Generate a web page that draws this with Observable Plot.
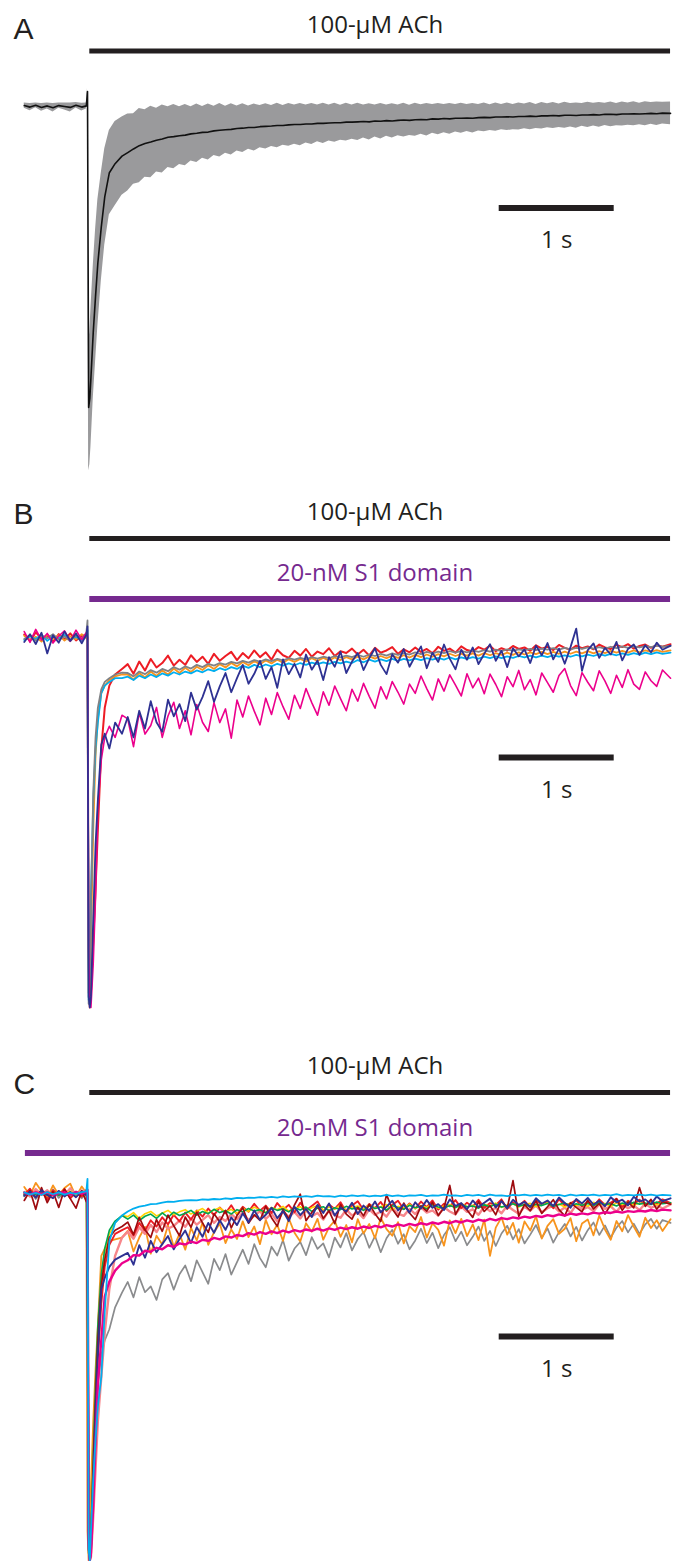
<!DOCTYPE html>
<html><head><meta charset="utf-8">
<script src="https://cdn.jsdelivr.net/npm/d3@7"></script>
<script src="https://cdn.jsdelivr.net/npm/@observablehq/plot@0.6"></script>
<style>body{margin:0;background:#fff} #fig svg{display:block}</style>
</head><body><div id="fig"></div>
<script>
// ---------- DATA (current normalised to the peak = -100, time in s from ACh onset) ----------
const time = [-0.55,-0.5,-0.45,-0.4,-0.35,-0.3,-0.25,-0.2,-0.15,-0.1,-0.05,-0.01,
0,0.01,0.02,0.03,0.05,0.07,0.09,0.12,0.15,0.19,0.24,0.3,
0.35,0.4,0.45,0.5,0.55,0.6,0.65,0.7,0.75,0.8,
0.85,0.9,0.95,1,1.05,1.1,1.15,1.2,1.25,1.3,
1.35,1.4,1.45,1.5,1.55,1.6,1.65,1.7,1.75,1.8,
1.85,1.9,1.95,2,2.05,2.1,2.15,2.2,2.25,2.3,
2.35,2.4,2.45,2.5,2.55,2.6,2.65,2.7,2.75,2.8,
2.85,2.9,2.95,3,3.05,3.1,3.15,3.2,3.25,3.3,
3.35,3.4,3.45,3.5,3.55,3.6,3.65,3.7,3.75,3.8,
3.85,3.9,3.95,4,4.05,4.1,4.15,4.2,4.25,4.3,
4.35,4.4,4.45,4.5,4.55,4.6,4.65,4.7,4.75,4.8,
4.85,4.9,4.95,5,5.07];

// Panel A: mean and SD
const meanA = [0.3,-0.2,0.4,-0.3,0.2,-0.4,0.3,0,-0.3,0.4,-0.2,0.2,
5,-100,-97,-90,-75,-63,-52,-40,-30,-22,-19,-16.5,
-15.3,-14.1,-13.0,-12.3,-11.8,-11.2,-10.8,-10.2,-10.0,-9.7,
-9.5,-9.1,-8.9,-8.6,-8.5,-8.1,-7.9,-7.7,-7.6,-7.3,
-7.2,-7.0,-7.0,-6.7,-6.6,-6.5,-6.3,-6.3,-6.1,-6.0,
-6.0,-5.8,-5.8,-5.6,-5.6,-5.5,-5.4,-5.4,-5.2,-5.2,
-5.1,-5.0,-5.1,-4.8,-4.9,-4.7,-4.8,-4.6,-4.5,-4.6,
-4.4,-4.3,-4.4,-4.1,-4.2,-4.0,-4.1,-3.9,-3.9,-3.8,
-3.9,-3.7,-3.6,-3.7,-3.5,-3.5,-3.4,-3.5,-3.3,-3.3,
-3.2,-3.3,-3.1,-3.1,-3.0,-3.1,-2.9,-2.9,-3.0,-2.8,
-2.8,-2.7,-2.8,-2.6,-2.6,-2.7,-2.5,-2.5,-2.4,-2.5,
-2.4,-2.3,-2.4,-2.2,-2.3];
const sdA = [0.9,1.2,0.8,1.3,1.0,1.4,0.9,1.2,1.5,0.9,1.3,1.0,
1,21,22,23,22,22,21,18,16,14,14,13,
12.8,11.7,12.3,11.2,11.9,10.6,11.3,10.1,10.7,9.6,
10.2,9.0,9.7,8.6,9.3,8.2,8.9,7.8,8.5,7.5,
8.1,7.2,7.8,7.0,7.5,6.8,7.4,6.6,7.1,6.5,
7.0,6.3,6.8,6.1,6.7,6.0,6.5,5.8,6.3,5.7,
6.2,5.5,6.0,5.3,5.9,5.2,5.7,5.1,5.6,5.0,
5.5,4.9,5.4,4.8,5.2,4.7,5.1,4.6,5.0,4.5,
4.9,4.4,4.8,4.3,4.7,4.2,4.6,4.2,4.5,4.1,
4.5,4.0,4.4,4.0,4.3,3.9,4.3,3.9,4.2,3.8,
4.2,3.8,4.1,3.7,4.1,3.7,4.0,3.7,4.0,3.6,
4.0,3.6,3.9,3.6,3.8];

// Panel B: individual recordings
const bRed = [0.8,-0.9,1.4,-0.3,0.6,-1.2,0.9,-0.5,1.1,-0.8,0.4,0.7,
0,-88,-100,-96,-82,-68,-52,-30,-19,-13,-10,-8.5,
-7.2,-9.8,-6.5,-8.9,-5.8,-8.1,-6.9,-4.9,-7.6,-6.0,
-7.4,-4.8,-6.6,-5.2,-7.1,-4.4,-6.3,-5.0,-3.9,-6.1,
-4.2,-5.6,-3.5,-5.3,-4.0,-6.0,-3.3,-4.8,-5.5,-3.6,
-4.9,-3.1,-5.2,-3.8,-4.5,-2.9,-5.0,-3.7,-4.2,-3.0,
-4.6,-3.3,-4.9,-2.8,-4.1,-3.5,-2.6,-4.4,-3.2,-4.0,
-2.7,-3.9,-3.1,-4.3,-2.5,-3.6,-3.0,-4.1,-2.4,-3.4,
-3.8,-2.6,-3.3,-2.2,-3.7,-2.9,-3.5,-2.3,-3.1,-2.7,
-3.6,-2.1,-3.0,-2.5,-3.4,-2.0,-2.8,-3.3,-2.2,-2.9,
-2.4,-3.2,-1.9,-2.7,-3.1,-2.0,-2.6,-1.8,-3.0,-2.3,
-1.9,-2.8,-2.1,-2.5,-1.8];
const bGray = [-0.4,0.7,-0.9,0.5,-0.2,0.9,-0.6,0.3,-1.0,0.6,-0.3,1.2,
4.6,-99,-92,-72,-42,-27,-19,-14,-12,-11,-10,-9.5,
-9.6,-10.5,-9.2,-9.9,-8.8,-9.5,-8.5,-9.1,-8.0,-8.7,
-7.8,-8.4,-7.4,-8.0,-7.1,-7.6,-6.9,-7.3,-6.6,-7.0,
-6.3,-6.8,-6.1,-6.5,-5.9,-6.4,-5.8,-6.2,-5.6,-6.0,
-5.5,-5.9,-5.3,-5.7,-5.2,-5.6,-5.0,-5.4,-4.9,-5.3,
-4.7,-5.2,-4.6,-5.0,-4.4,-4.9,-4.3,-4.7,-4.2,-4.6,
-4.0,-4.5,-3.9,-4.3,-3.8,-4.2,-3.7,-4.1,-3.6,-4.0,
-3.5,-3.9,-3.4,-3.8,-3.3,-3.7,-3.2,-3.6,-3.2,-3.5,
-3.1,-3.4,-3.0,-3.3,-2.9,-3.3,-2.8,-3.2,-2.8,-3.1,
-2.7,-3.0,-2.6,-3.0,-2.5,-2.9,-2.4,-2.8,-2.4,-2.7,
-2.3,-2.6,-2.2,-2.5,-2.3];
const bOrange = [0.5,-0.6,0.2,-1.1,0.8,-0.3,0.6,-0.8,0.3,-0.5,0.9,-0.2,
1,-96,-97,-82,-52,-32,-22,-15,-13,-11.5,-10.5,-10,
-10.0,-11.4,-9.6,-10.8,-9.2,-10.4,-8.9,-10.0,-8.4,-9.6,
-8.2,-9.3,-7.9,-8.8,-7.5,-8.5,-7.2,-8.1,-6.9,-7.8,
-6.6,-7.5,-6.4,-7.2,-6.2,-7.0,-6.0,-6.8,-5.9,-6.6,
-5.8,-6.5,-5.6,-6.3,-5.5,-6.2,-5.4,-6.1,-5.3,-5.9,
-5.2,-5.9,-5.1,-5.7,-5.0,-5.6,-4.9,-5.5,-4.8,-5.4,
-4.7,-5.3,-4.6,-5.2,-4.5,-5.1,-4.4,-5.0,-4.4,-4.9,
-4.3,-4.9,-4.2,-4.8,-4.2,-4.7,-4.1,-4.7,-4.0,-4.6,
-4.0,-4.5,-3.9,-4.5,-3.9,-4.4,-3.8,-4.4,-3.8,-4.3,
-3.7,-4.3,-3.7,-4.2,-3.6,-4.1,-3.6,-4.1,-3.5,-4.0,
-3.5,-3.9,-3.4,-3.9,-3.5];
const bCyan = [-0.7,0.3,-0.4,0.8,-0.9,0.4,-0.2,0.7,-0.6,0.2,-0.8,0.5,
2,-98,-90,-70,-44,-30,-23,-15,-13,-12,-11,-11,
-10.6,-11.5,-10.3,-11.0,-10.0,-10.7,-9.7,-10.3,-9.4,-10.0,
-9.2,-9.7,-8.9,-9.4,-8.6,-9.1,-8.3,-8.8,-8.0,-8.5,
-7.6,-8.2,-7.4,-8.0,-7.3,-7.8,-7.1,-7.6,-7.0,-7.5,
-6.9,-7.4,-6.8,-7.2,-6.7,-7.1,-6.6,-7.0,-6.5,-6.9,
-6.1,-6.7,-6.0,-6.5,-5.9,-6.4,-5.8,-6.3,-5.8,-6.2,
-5.7,-6.1,-5.6,-6.0,-5.5,-6.0,-5.4,-5.9,-5.4,-5.8,
-5.3,-5.7,-5.2,-5.6,-5.1,-5.6,-5.1,-5.5,-5.0,-5.4,
-4.9,-5.4,-4.9,-5.3,-4.8,-5.2,-4.8,-5.2,-4.7,-5.1,
-4.6,-5.0,-4.5,-4.9,-4.4,-4.8,-4.3,-4.7,-4.2,-4.6,
-4.1,-4.5,-4.0,-4.4,-4.1];
const bNavy = [-1.2,0.9,-1.8,1.3,-4.3,0.6,-1.4,1.6,-0.9,1.1,-1.6,0.8,
3,-97,-100,-97,-76,-56,-44,-29,-26,-30,-23,-26,
-21.5,-27.0,-19.8,-24.6,-17.2,-22.9,-25.5,-16.8,-21.3,-18.0,
-22.6,-14.9,-19.5,-16.1,-11.8,-17.4,-13.2,-9.6,-14.8,-11.0,
-7.4,-12.5,-9.8,-6.3,-11.2,-8.0,-13.6,-5.9,-9.9,-7.1,
-10.8,-4.6,-8.7,-6.2,-11.5,-5.3,-7.9,-3.8,-9.6,-6.5,
-4.2,-8.8,-5.6,-2.9,-7.4,-9.9,-4.5,-6.8,-3.1,-7.9,
-5.0,-2.4,-8.3,-4.1,-6.6,-1.9,-5.7,-8.6,-3.3,-6.0,
-2.7,-7.2,-4.4,-1.8,-6.3,-3.6,-8.0,-2.9,-5.1,-3.2,
-6.9,-2.2,-4.8,-1.5,-5.9,-3.0,-7.1,-2.6,2.4,-9.0,
-3.4,-1.6,-5.5,-2.8,-4.6,-1.2,-6.2,-3.1,-1.9,-4.7,
-2.1,-4.0,-1.4,-3.3,-2.2];
const bPink = [1.6,-1.3,2.2,-0.7,1.1,-1.5,0.4,1.8,-1.0,2.0,-0.6,1.3,
0,-85,-98,-100,-88,-70,-46,-33,-27,-24,-27,-21,
-22.0,-29.5,-20.3,-26.1,-23.8,-18.9,-27.0,-21.2,-17.5,-24.6,
-19.8,-26.3,-18.1,-22.9,-25.4,-17.6,-23.0,-19.3,-27.2,-16.9,
-21.5,-15.8,-19.9,-23.6,-16.4,-20.8,-14.9,-18.7,-22.1,-15.6,
-19.2,-13.8,-17.6,-21.0,-14.7,-18.3,-13.1,-16.5,-19.8,-14.0,
-17.2,-12.4,-15.9,-19.1,-13.3,-16.6,-11.9,-14.8,-18.0,-12.6,
-15.1,-10.4,-13.8,-16.9,-11.2,-14.5,-10.1,-12.9,-15.8,-9.8,
-13.6,-11.0,-15.2,-9.9,-12.7,-16.0,-10.6,-13.3,-8.9,-14.1,
-11.4,-15.5,-9.6,-12.2,-14.8,-10.3,-8.4,-13.0,-15.7,-9.5,
-12.1,-14.4,-9.0,-11.8,-15.1,-10.2,-13.5,-8.7,-12.6,-14.0,
-9.3,-11.7,-13.2,-8.8,-11.0];

// Panel C: individual recordings
const cGray = [-0.8,0.9,-1.5,0.4,-0.6,1.1,-1.2,0.3,-0.9,0.6,-1.3,0.5,
0,-98,-100,-95,-78,-62,-52,-44,-40,-37,-31,-27,
-24.1,-28.3,-22.8,-26.9,-25.3,-29.0,-23.4,-21.7,-26.2,-22.0,
-19.6,-23.9,-18.2,-21.4,-24.6,-17.8,-20.9,-16.5,-22.1,-18.7,
-15.3,-19.2,-13.8,-17.6,-20.1,-14.5,-16.9,-12.7,-18.3,-15.0,
-13.2,-16.8,-11.9,-15.1,-13.6,-17.4,-12.0,-14.7,-10.8,-15.5,
-12.4,-10.5,-14.8,-11.6,-16.0,-12.2,-9.9,-13.7,-11.1,-15.2,
-12.8,-9.6,-13.5,-10.7,-14.9,-11.3,-9.2,-13.0,-10.4,-14.1,
-11.8,-9.0,-12.9,-10.2,-14.3,-10.9,-8.8,-12.5,-9.7,-13.6,
-11.2,-8.6,-12.1,-9.5,-13.4,-10.5,-8.3,-11.7,-9.1,-12.8,
-10.0,-7.9,-11.3,-8.7,-12.0,-9.3,-7.5,-10.6,-8.2,-11.0,
-8.4,-6.9,-9.6,-7.2,-8.0];
const cOrange = [1.8,-0.5,2.9,0.6,-1.2,2.2,-0.4,1.5,2.7,-0.9,1.9,0.2,
-92,-100,-96,-80,-62,-48,-36,-17,-15,-13,-12.5,-12,
-10.2,-15.8,-12.0,-9.1,-16.4,-11.5,-13.9,-8.7,-14.6,-11.0,
-15.3,-9.4,-12.8,-7.9,-14.0,-10.6,-8.2,-13.5,-9.8,-12.4,
-7.6,-11.9,-9.0,-13.8,-7.2,-11.1,-8.5,-12.9,-6.8,-10.7,
-13.1,-8.1,-10.4,-6.9,-12.6,-9.2,-7.4,-11.8,-8.6,-13.3,
-7.0,-10.9,-8.3,-12.2,-6.6,-9.7,-11.5,-7.8,-13.6,-8.9,
-10.5,-6.4,-12.0,-8.1,-9.9,-14.2,-7.3,-10.8,-6.9,-11.6,
-8.4,-12.7,-7.1,-17.0,-9.3,-6.5,-11.2,-8.0,-13.4,-7.6,
-10.1,-6.2,-12.3,-8.8,-7.0,-11.0,-9.6,-6.7,-13.0,-8.2,
-7.1,-11.4,-6.0,-9.8,-12.6,-7.5,-10.3,-5.9,-9.0,-11.8,
-6.6,-9.4,-7.3,-10.2,-7.0];
const cSalmon = [0.4,-0.8,1.2,-0.3,0.9,-1.1,0.6,-0.5,1.4,-0.2,0.8,0.6,
0,-90,-100,-99,-88,-75,-62,-50,-38,-26,-17,-12,
-10.4,-12.3,-9.2,-11.0,-8.6,-10.5,-7.9,-9.6,-8.8,-7.4,
-9.1,-6.8,-8.5,-7.2,-5.9,-8.0,-6.4,-7.5,-5.6,-7.0,
-5.2,-7.3,-6.1,-4.8,-6.9,-5.5,-7.6,-4.9,-6.4,-5.0,
-6.8,-4.6,-6.2,-5.3,-7.1,-4.5,-5.9,-6.6,-4.4,-6.0,
-5.1,-6.7,-4.3,-5.8,-4.9,-6.3,-3.9,-5.5,-6.1,-4.2,
-5.6,-3.8,-5.2,-4.6,-6.0,-3.7,-4.9,-5.7,-3.5,-5.0,
-4.3,-5.8,-3.6,-4.8,-3.9,-5.4,-3.3,-4.5,-5.5,-3.6,
-4.7,-3.2,-5.1,-4.0,-3.4,-4.9,-3.8,-5.3,-3.1,-4.4,
-3.7,-4.8,-2.9,-4.2,-3.5,-5.0,-3.0,-4.0,-3.3,-4.5,
-2.8,-3.9,-3.2,-4.1,-3.0];
const cRed = [-0.3,1.3,-1.0,0.7,-1.6,0.9,-0.5,1.2,-1.3,0.4,-0.8,1.0,
0,-95,-100,-97,-80,-62,-45,-30,-20,-14,-11,-10,
-9.2,-11.4,-8.0,-10.1,-7.3,-9.0,-6.5,-8.4,-5.8,-7.6,
-5.2,-7.1,-4.6,-6.3,-4.1,-5.9,-3.8,-5.4,-3.2,-5.7,
-3.6,-5.0,-2.8,-4.7,-3.3,-5.3,-2.6,-4.4,-3.1,-5.1,
-2.5,-4.6,-3.4,-2.2,-4.9,-3.0,-4.2,-2.4,-5.0,-3.3,
-2.1,-4.5,-2.9,-4.0,-2.3,-4.8,-3.1,-2.0,-4.3,-2.7,
-4.1,-2.2,-3.7,-1.9,-4.4,-2.8,-3.5,-1.8,-4.0,-2.5,
-3.6,-1.7,-3.9,-2.6,-3.2,-1.6,-4.2,-2.4,-3.4,-2.0,
-3.8,-1.9,-3.0,-2.3,-4.0,-1.5,-3.3,-2.7,-1.8,-3.6,
-2.2,-3.5,-1.6,-3.1,-2.5,-1.4,-3.7,-2.0,-2.9,-1.7,
-3.2,-2.1,-2.8,-1.6,-2.6];
const cYellow = [0.2,-0.4,0.5,-0.3,0.3,-0.5,0.4,-0.2,0.6,-0.4,0.3,0.1,
0,-96,-100,-95,-75,-55,-38,-24,-16,-11,-8,-6,
-6.3,-5.2,-6.8,-5.5,-4.9,-6.1,-5.4,-4.6,-5.8,-5.0,
-4.4,-5.6,-4.8,-4.1,-5.3,-4.5,-3.9,-5.1,-4.3,-5.5,
-4.0,-4.9,-3.7,-4.6,-5.2,-3.8,-4.4,-3.5,-4.8,-4.1,
-3.6,-4.7,-3.9,-3.3,-4.5,-3.7,-4.2,-3.2,-4.6,-3.8,
-3.4,-4.3,-3.1,-4.0,-3.6,-3.0,-4.4,-3.5,-3.9,-2.9,
-4.1,-3.3,-3.8,-2.8,-4.0,-3.4,-3.0,-3.9,-2.7,-3.6,
-3.2,-3.9,-2.9,-3.5,-2.6,-3.8,-3.1,-2.8,-3.7,-3.0,
-2.7,-3.6,-3.2,-2.5,-3.4,-2.9,-3.7,-2.6,-3.3,-2.8,
-3.5,-2.4,-3.1,-2.7,-3.6,-2.5,-3.0,-2.3,-3.2,-2.6,
-2.9,-2.4,-3.1,-2.5,-2.7];
const cGreen = [-0.3,0.4,-0.2,0.5,-0.4,0.3,-0.5,0.2,-0.3,0.4,-0.2,0.3,
-40,-98,-99,-92,-72,-52,-36,-22,-15,-10,-7.5,-6,
-7.0,-5.9,-7.4,-6.2,-5.6,-6.8,-5.3,-6.5,-5.1,-6.0,
-5.4,-4.6,-5.9,-4.9,-5.5,-4.3,-5.2,-4.7,-5.6,-4.4,
-5.0,-4.1,-4.8,-4.4,-5.3,-3.9,-4.6,-4.2,-5.0,-3.8,
-4.5,-3.7,-4.9,-4.0,-3.6,-4.7,-3.9,-4.4,-3.5,-4.2,
-3.8,-4.6,-3.4,-4.1,-3.7,-4.5,-3.3,-3.9,-4.3,-3.2,
-3.9,-3.5,-4.2,-3.1,-3.7,-4.0,-3.3,-3.8,-3.0,-3.6,
-3.4,-4.0,-3.1,-3.6,-2.9,-3.7,-3.3,-2.8,-3.5,-3.0,
-3.6,-2.9,-3.3,-2.7,-3.5,-3.0,-2.6,-3.4,-2.8,-3.2,
-2.7,-3.3,-2.5,-3.0,-2.8,-3.4,-2.6,-3.1,-2.4,-2.9,
-2.6,-3.0,-2.3,-2.8,-2.5];
const cDarkRed = [-1.9,0.8,-4.3,1.6,-2.5,0.5,-3.8,1.2,-1.4,-4.0,0.7,-2.2,
0,-97,-100,-94,-74,-56,-40,-25,-18,-12,-10,-9,
-7.8,-11.2,-6.5,-9.9,-12.0,-7.1,-10.3,-5.9,-8.8,-11.5,
-6.4,-9.2,-5.1,-8.0,-10.6,-5.5,-7.7,-4.6,-9.4,-6.0,
-3.9,-8.1,-5.8,-7.3,-3.5,-6.6,-8.9,-4.4,-6.9,-3.1,
-0.2,-7.4,-5.2,-3.3,-6.8,-4.7,-8.2,-3.0,-5.6,-7.0,
-3.8,-6.1,-2.9,-5.5,-7.6,-0.3,-4.2,-6.4,-2.6,-5.3,
-7.1,-3.4,-4.8,-2.4,-6.0,-3.9,2.2,-5.7,-2.8,-4.5,
-6.5,-2.2,-4.9,-3.3,-5.8,-1.9,-4.0,3.5,-6.2,-3.0,
-4.7,-2.0,-5.4,-3.6,-1.7,-4.4,-6.1,-2.5,-3.8,-5.0,
-1.8,-4.2,-2.7,-5.6,-3.1,-1.5,-4.6,-2.3,-3.9,1.6,
-3.5,-1.6,-4.3,-2.2,-2.9];
const cNavy = [-0.6,0.5,-1.1,0.9,-0.4,-1.3,0.7,-0.8,0.4,-1.0,0.6,-0.5,
0,-94,-100,-98,-80,-60,-44,-26,-23,-20,-18,-17,
-16.2,-19.4,-14.1,-17.5,-12.9,-16.0,-13.8,-11.6,-15.2,-12.4,
-10.1,-13.5,-9.2,-11.8,-8.0,-10.7,-7.3,-9.9,-6.5,-8.6,
-5.4,-7.9,-4.6,-7.2,-5.8,-3.9,-6.7,-4.8,-7.5,-3.6,
-5.9,-4.2,-6.4,-3.1,-5.3,-2.7,-6.0,-3.8,-4.9,-2.5,
-5.6,-3.3,-4.7,-2.2,-5.1,-3.6,-2.0,-4.6,-3.0,-5.2,
-2.4,-4.1,-1.8,-3.9,-2.9,-4.5,-1.6,-3.4,-2.6,-4.3,
-1.9,-3.7,-2.5,-1.4,-3.8,-2.1,-4.0,-1.7,-3.1,-2.3,
-3.6,-1.3,-2.8,-1.9,-3.4,-1.1,-2.6,-3.9,-1.5,-2.7,
-1.2,-3.0,-2.0,-3.5,-1.0,-2.4,-1.7,-3.2,-0.9,-2.2,
-1.6,-2.9,-0.8,-2.1,-1.3];
const cPink = [0.2,-0.3,0.4,-0.2,0.3,-0.4,0.1,0.3,-0.3,0.4,-0.1,0.5,
1,-96,-100,-98,-85,-68,-52,-40,-28,-24,-21,-19,
-18.2,-16.8,-16.9,-15.6,-15.9,-14.8,-15.2,-14.1,-14.5,-13.6,
-13.9,-13.1,-13.5,-12.6,-12.9,-12.1,-12.5,-11.7,-12.0,-11.3,
-11.6,-10.8,-11.2,-10.5,-11.0,-10.3,-10.8,-10.1,-10.6,-10.0,
-10.4,-9.8,-10.2,-9.6,-10.1,-9.5,-9.9,-9.3,-9.7,-9.2,
-9.6,-9.0,-9.4,-8.8,-9.2,-8.6,-9.0,-8.4,-8.8,-8.3,
-8.7,-8.1,-8.5,-7.9,-8.3,-7.7,-8.1,-7.5,-7.9,-7.3,
-7.7,-7.1,-7.5,-6.9,-7.3,-6.7,-7.0,-6.5,-6.8,-6.3,
-6.6,-6.1,-6.4,-5.9,-6.2,-5.7,-6.0,-5.5,-5.8,-5.4,
-5.7,-5.2,-5.5,-5.1,-5.3,-4.9,-5.2,-4.8,-5.0,-4.7,
-4.9,-4.5,-4.8,-4.4,-4.6];
const cCyan = [0.3,-0.3,0.2,-0.4,0.4,-0.2,0.3,-0.3,0.2,-0.1,0.4,0.6,
4,-97,-100,-92,-78,-67,-58,-50,-32,-13,-8,-6,
-4.9,-4.1,-3.6,-3.3,-2.9,-2.8,-2.5,-2.2,-2.3,-2.0,
-1.9,-1.8,-1.9,-1.6,-1.7,-1.5,-1.6,-1.3,-1.5,-1.2,
-1.3,-1.1,-1.2,-1.0,-1.1,-0.9,-1.1,-0.8,-1.0,-0.8,
-0.9,-0.7,-0.9,-0.6,-0.8,-0.7,-0.9,-0.6,-0.8,-0.5,
-0.7,-0.5,-0.8,-0.6,-0.7,-0.4,-0.7,-0.5,-0.8,-0.5,
-0.6,-0.4,-0.7,-0.5,-0.6,-0.3,-0.6,-0.5,-0.7,-0.4,
-0.6,-0.4,-0.7,-0.3,-0.6,-0.5,-0.7,-0.4,-0.5,-0.3,
-0.6,-0.4,-0.6,-0.3,-0.5,-0.4,-0.7,-0.3,-0.6,-0.4,
-0.5,-0.3,-0.6,-0.4,-0.5,-0.2,-0.6,-0.4,-0.5,-0.3,
-0.5,-0.3,-0.6,-0.4,-0.5];

// Application periods and scale bar (s)
const achPeriod = [0.02, 5.07];
const s1PeriodB = [0.02, 5.07];
const s1PeriodC = [-0.54, 5.07];
const scaleBar = [3.58, 4.58];
const panelLabels = ["A", "B", "C"];
const achLabel = "100-\u03bcM ACh";
const s1Label = "20-nM S1 domain";
const scaleLabel = "1 s";

// ---------- STYLES / LAYOUT ----------
const W = 681;
const xDomain = [-87 / 115, (W - 87) / 115];
const INK = "#231f20", PURPLE = "#762a8f";
const textFont = "'Open Sans', 'Noto Sans', sans-serif";
const labelFont = "'Liberation Sans', Arial, sans-serif";

const all = [meanA, sdA, bRed, bGray, bOrange, bCyan, bNavy, bPink, cGray, cOrange, cSalmon, cRed, cYellow, cGreen, cDarkRed, cNavy, cPink, cCyan];
all.forEach((a, i) => { if (a.length !== time.length) throw new Error("array " + i + " has " + a.length + " values, expected " + time.length); });

const rows = (vals) => time.map((t, i) => ({t, v: vals[i]}));

function panel({height, base, k, label, labelY, texts, bars, traces}) {
  const toY = (px) => (base - px) / k;
  const marks = [];
  for (const b of bars) {
    marks.push(Plot.ruleY([toY(b.py)], {x1: b.span[0], x2: b.span[1], stroke: b.color, strokeWidth: b.w, strokeLinecap: "butt"}));
  }
  for (const tx of texts) {
    marks.push(Plot.text([tx.text], {x: tx.x, frameAnchor: "top", dy: tx.py, lineAnchor: "bottom", text: d => d,
      fill: tx.color, fontSize: 24, fontFamily: textFont, textAnchor: "middle"}));
  }
  marks.push(Plot.text([label], {frameAnchor: "top-left", dx: 13, dy: labelY, lineAnchor: "bottom", text: d => d,
    fill: INK, fontSize: 30, fontFamily: labelFont, textAnchor: "start"}));
  marks.push(...traces);
  return Plot.plot({
    width: W, height, margin: 0,
    x: {domain: xDomain, axis: null},
    y: {domain: [toY(height), toY(0)], axis: null},
    style: {background: "#fff", overflow: "hidden"},
    marks
  });
}
const tr = (vals, color, w = 1.6) => Plot.line(rows(vals), {x: "t", y: "v", stroke: color, strokeWidth: w, strokeLinejoin: "round"});
const mid = 2.5;

const fig = document.getElementById("fig");

// Panel A
fig.append(panel({
  height: 480, base: 106, k: 3.01, label: panelLabels[0], labelY: 38,
  texts: [{text: achLabel, x: mid, py: 32, color: INK}, {text: scaleLabel, x: (scaleBar[0] + scaleBar[1]) / 2, py: 247, color: INK}],
  bars: [{span: achPeriod, py: 50.5, w: 5, color: INK}, {span: scaleBar, py: 207.5, w: 6, color: INK}],
  traces: [
    Plot.areaY(time.map((t, i) => ({t, lo: meanA[i] - sdA[i], hi: meanA[i] + sdA[i]})), {x: "t", y1: "lo", y2: "hi", fill: "#9a9a9c"}),
    tr(meanA, "#111", 1.6)
  ]
}));

// Panel B
fig.append(panel({
  height: 550, base: 157, k: 3.7, label: panelLabels[1], labelY: 43,
  texts: [{text: achLabel, x: mid, py: 39, color: INK}, {text: s1Label, x: mid, py: 100, color: PURPLE},
          {text: scaleLabel, x: (scaleBar[0] + scaleBar[1]) / 2, py: 317, color: INK}],
  bars: [{span: achPeriod, py: 58, w: 5, color: INK}, {span: s1PeriodB, py: 118.5, w: 6, color: PURPLE},
         {span: scaleBar, py: 277, w: 6, color: INK}],
  traces: [tr(bRed, "#ed1c24", 2), tr(bOrange, "#f7941d", 1.8), tr(bCyan, "#00aeef", 1.8), tr(bGray, "#808285", 1.8),
           tr(bPink, "#ec008c", 1.6), tr(bNavy, "#2e3192", 1.8)]
}));

// Panel C
fig.append(panel({
  height: 531, base: 163, k: 3.67, label: panelLabels[2], labelY: 63,
  texts: [{text: achLabel, x: mid, py: 43, color: INK}, {text: s1Label, x: mid, py: 105, color: PURPLE},
          {text: scaleLabel, x: (scaleBar[0] + scaleBar[1]) / 2, py: 346, color: INK}],
  bars: [{span: achPeriod, py: 62, w: 5, color: INK}, {span: s1PeriodC, py: 122.5, w: 6, color: PURPLE},
         {span: scaleBar, py: 306, w: 6, color: INK}],
  traces: [tr(cGray, "#8a8b8d", 1.7), tr(cOrange, "#f7941d", 1.8), tr(cSalmon, "#f7868b", 2.4), tr(cRed, "#ed1c24", 1.9),
           tr(cYellow, "#ffd200"), tr(cGreen, "#00a651"), tr(cDarkRed, "#9e0b0f", 1.7), tr(cNavy, "#2e3192", 1.9),
           tr(cPink, "#ec008c", 2.4), tr(cCyan, "#00aeef", 1.8)]
}));
</script></body></html>
